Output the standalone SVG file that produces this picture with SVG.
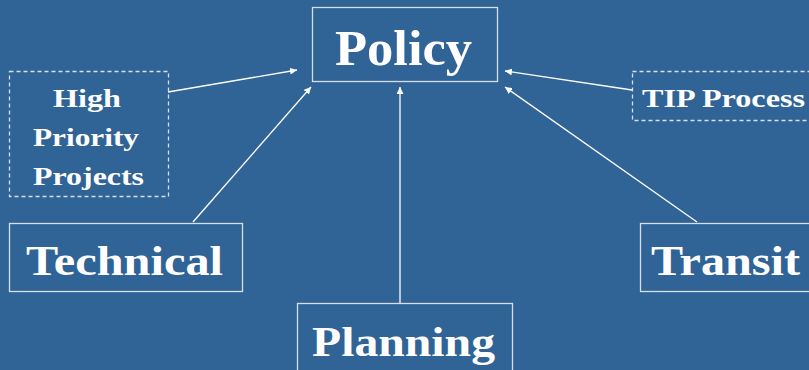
<svg xmlns="http://www.w3.org/2000/svg" width="809" height="370" viewBox="0 0 809 370">
<style>
.box{fill:none;stroke:#d6dfeb;stroke-width:1.3}
.dash{fill:none;stroke:#d6dfeb;stroke-width:1.3;stroke-dasharray:4,3}
.t{font-weight:bold;fill:#ffffff;text-anchor:middle}
.c{stroke:#ffffff;stroke-width:1.3;fill:none;marker-end:url(#ah)}
</style>
<defs>
<marker id="ah" viewBox="0 0 10 10" refX="10" refY="5" markerWidth="7" markerHeight="7" markerUnits="userSpaceOnUse" orient="auto">
<path d="M0,0 L10,5 L0,10 Z" fill="#ffffff"/>
</marker>
</defs>
<rect width="809" height="370" fill="#306396"/>
<g id="connectors">
<line class="c" x1="168" y1="92" x2="297" y2="70"/>
<line class="c" x1="193" y1="222" x2="311" y2="87"/>
<line class="c" x1="400" y1="303" x2="400" y2="87"/>
<line class="c" x1="697" y1="222" x2="505" y2="87"/>
<line class="c" x1="632" y1="90" x2="505" y2="71"/>
</g>
<g font-family="Liberation Serif, Times New Roman, serif">
<g id="policy">
<rect class="box" x="312.5" y="7.5" width="185" height="74"/>
<text class="t" x="403.5" y="65" font-size="51" textLength="137" lengthAdjust="spacingAndGlyphs">Policy</text>
</g>
<g id="high-priority">
<rect class="dash" x="9.5" y="71.5" width="159" height="125"/>
<text class="t" x="87" y="107" font-size="26" textLength="68" lengthAdjust="spacingAndGlyphs">High</text>
<text class="t" x="86" y="146" font-size="26" textLength="106" lengthAdjust="spacingAndGlyphs">Priority</text>
<text class="t" x="88.5" y="185" font-size="26" textLength="111" lengthAdjust="spacingAndGlyphs">Projects</text>
</g>
<g id="tip">
<rect class="dash" x="632.5" y="71.5" width="185" height="49"/>
<text class="t" x="723.5" y="107" font-size="26" textLength="163" lengthAdjust="spacingAndGlyphs">TIP Process</text>
</g>
<g id="technical">
<rect class="box" x="9.5" y="223.5" width="233" height="68"/>
<text class="t" x="124.5" y="275" font-size="43" textLength="197" lengthAdjust="spacingAndGlyphs">Technical</text>
</g>
<g id="transit">
<rect class="box" x="640.5" y="223.5" width="185" height="68"/>
<text class="t" x="725.5" y="275" font-size="43" textLength="149" lengthAdjust="spacingAndGlyphs">Transit</text>
</g>
<g id="planning">
<rect class="box" x="297.5" y="303.5" width="215" height="80"/>
<text class="t" x="403.5" y="356" font-size="43" textLength="183" lengthAdjust="spacingAndGlyphs">Planning</text>
</g>
</g>
</svg>
